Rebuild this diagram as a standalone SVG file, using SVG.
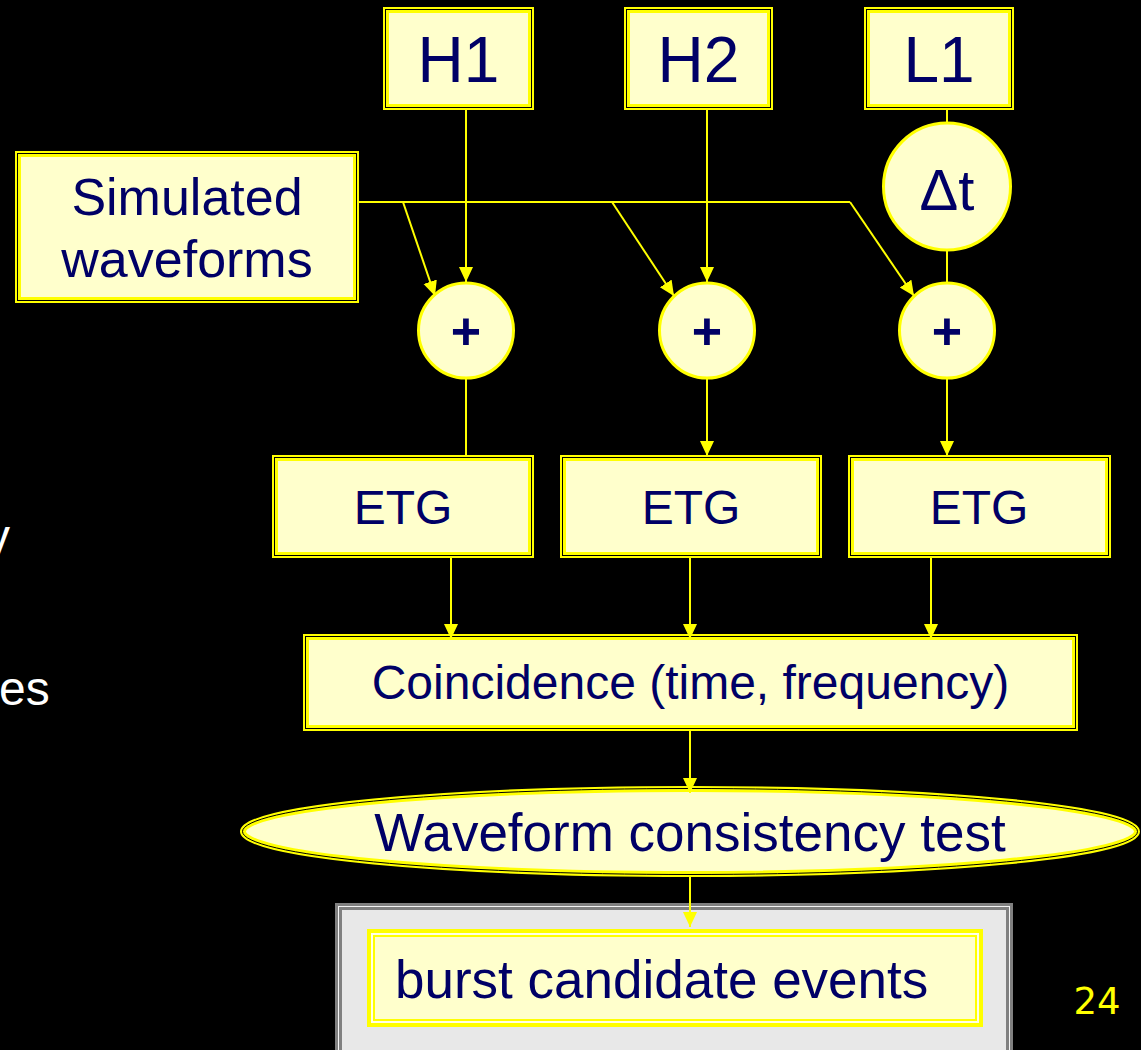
<svg xmlns="http://www.w3.org/2000/svg" width="1141" height="1050" viewBox="0 0 1141 1050">
<defs>
<marker id="ah" markerWidth="16" markerHeight="16" refX="15" refY="7" orient="auto" markerUnits="userSpaceOnUse">
<path d="M0,0 L15,7 L0,14 Z" fill="#FFFF00"/>
</marker>
</defs>
<style>
.box{fill:#FFFFCC;stroke:#FFFF00;stroke-width:6}
.inl{fill:none;stroke:#000000;stroke-width:1}
.circ{fill:#FFFFCC;stroke:#FFFF00;stroke-width:3}
.lbl{font-family:"Liberation Sans",Arial,sans-serif;fill:#000066;text-anchor:middle}
.conn{stroke:#FFFF00;stroke-width:2;fill:none}
.arr{marker-end:url(#ah)}
.side{font-family:"Liberation Sans",Arial,sans-serif;fill:#FFFFFF;font-size:48px}
</style>
<rect x="0" y="0" width="1141" height="1050" fill="#000000"/>
<text class="side" x="-14" y="553">y</text>
<text class="side" x="-1" y="705">es</text>

<g id="H1">
<rect class="box" x="386" y="10" width="145" height="97"/>
<rect class="inl" x="385.5" y="9.5" width="146" height="98"/>
<text class="lbl" x="458.5" y="82" font-size="64">H1</text>
</g>
<g id="H2">
<rect class="box" x="627" y="10" width="143" height="97"/>
<rect class="inl" x="626.5" y="9.5" width="144" height="98"/>
<text class="lbl" x="698.5" y="82" font-size="64">H2</text>
</g>
<g id="L1">
<rect class="box" x="867" y="10" width="144" height="97"/>
<rect class="inl" x="866.5" y="9.5" width="145" height="98"/>
<text class="lbl" x="939" y="82" font-size="64">L1</text>
</g>

<g id="sim">
<rect class="box" x="18" y="154" width="338" height="146"/>
<rect class="inl" x="17.5" y="153.5" width="339" height="147"/>
<text class="lbl" x="187" y="215" font-size="52">Simulated</text>
<text class="lbl" x="187" y="277" font-size="52">waveforms</text>
</g>

<g id="dt">
<circle class="circ" cx="947" cy="186.5" r="63.5"/>
<text class="lbl" x="947" y="210" font-size="58">Δt</text>
</g>

<g id="plus1">
<circle class="circ" cx="466" cy="330.5" r="47.5"/>
<text class="lbl" x="466" y="349" font-size="52" font-weight="bold">+</text>
</g>
<g id="plus2">
<circle class="circ" cx="707" cy="330.5" r="47.5"/>
<text class="lbl" x="707" y="349" font-size="52" font-weight="bold">+</text>
</g>
<g id="plus3">
<circle class="circ" cx="947" cy="330.5" r="47.5"/>
<text class="lbl" x="947" y="349" font-size="52" font-weight="bold">+</text>
</g>

<g id="etg1">
<rect class="box" x="275" y="458" width="256" height="97"/>
<rect class="inl" x="274.5" y="457.5" width="257" height="98"/>
<text class="lbl" x="403" y="524" font-size="48">ETG</text>
</g>
<g id="etg2">
<rect class="box" x="563" y="458" width="256" height="97"/>
<rect class="inl" x="562.5" y="457.5" width="257" height="98"/>
<text class="lbl" x="691" y="524" font-size="48">ETG</text>
</g>
<g id="etg3">
<rect class="box" x="851" y="458" width="257" height="97"/>
<rect class="inl" x="850.5" y="457.5" width="258" height="98"/>
<text class="lbl" x="979" y="524" font-size="48">ETG</text>
</g>

<g id="coinc">
<rect class="box" x="306" y="637" width="769" height="91"/>
<rect class="inl" x="305.5" y="636.5" width="770" height="92"/>
<text class="lbl" x="690.5" y="699" font-size="48">Coincidence (time, frequency)</text>
</g>

<g id="wct">
<ellipse cx="690" cy="831.5" rx="447" ry="42.5" fill="#FFFFCC" stroke="#FFFF00" stroke-width="6"/>
<ellipse cx="690" cy="831.5" rx="447.5" ry="43" fill="none" stroke="#000000" stroke-width="1"/>
<text class="lbl" x="690" y="851" font-size="53">Waveform consistency test</text>
</g>

<g id="burst">
<rect x="338.5" y="906.5" width="671" height="160" fill="#E8E8E8" stroke="#808080" stroke-width="7"/>
<rect x="338.5" y="906.5" width="671" height="160" fill="none" stroke="#F4F4F4" stroke-width="1"/>
<rect x="371" y="933" width="608" height="90" fill="#FFFFCC" stroke="#FFFF00" stroke-width="8"/>
<rect x="372" y="934" width="606" height="88" fill="none" stroke="#FFFFE8" stroke-width="2"/>
<text x="395" y="998" font-size="53" font-family="'Liberation Sans',Arial,sans-serif" fill="#000066">burst candidate events</text>
</g>

<g id="connectors">
<path class="conn arr" d="M466,110 L466,282"/>
<path class="conn arr" d="M707,110 L707,282"/>
<path class="conn" d="M947,110 L947,122"/>
<path class="conn" d="M947,251 L947,282"/>
<path class="conn" d="M359,202 L850,202"/>
<path class="conn arr" d="M850,202 L914,296"/>
<path class="conn arr" d="M403,202 L435,296"/>
<path class="conn arr" d="M612,202 L674,296"/>
<path class="conn" d="M466,379 L466,455"/>
<path class="conn arr" d="M707,379 L707,456"/>
<path class="conn arr" d="M947,379 L947,456"/>
<path class="conn arr" d="M451,558 L451,639"/>
<path class="conn arr" d="M690,558 L690,639"/>
<path class="conn arr" d="M931,558 L931,639"/>
<path class="conn arr" d="M690,731 L690,793"/>
<path class="conn arr" d="M690,877 L690,927"/>
</g>

<text x="1097" y="1014" font-size="37" font-family="'DejaVu Sans',sans-serif" fill="#FFFF00" text-anchor="middle">24</text>
</svg>
